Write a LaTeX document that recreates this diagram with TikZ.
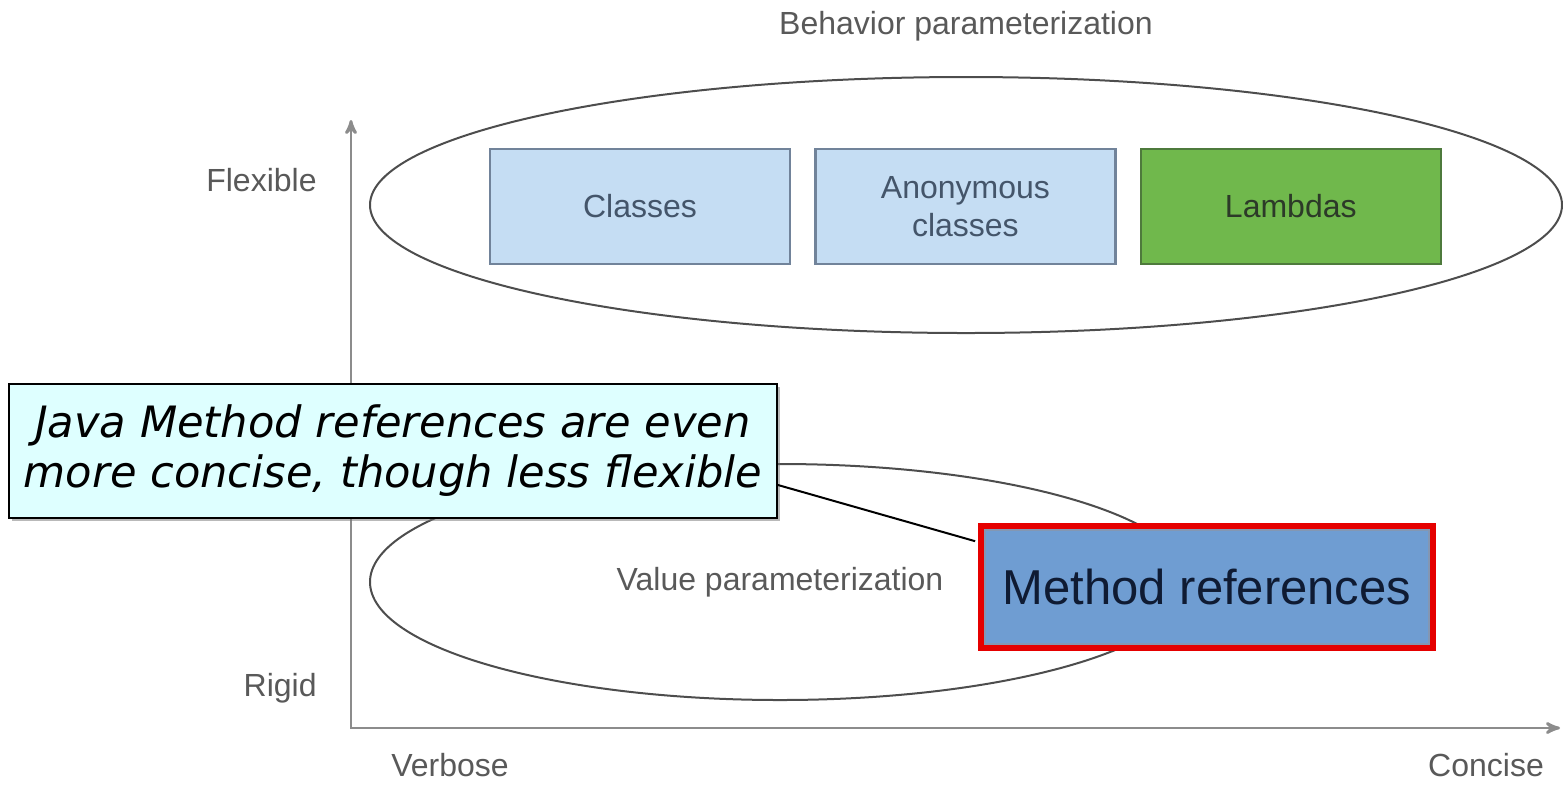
\documentclass[tikz,border=0pt]{standalone}
\usepackage{fontspec}
\setmainfont{Liberation Sans}
\newfontfamily\notefont{DejaVu Sans}
\usetikzlibrary{arrows,positioning,shapes.geometric,shadows}
\definecolor{labelgray}{HTML}{595959}
\definecolor{axisgray}{HTML}{8C8C8C}
\definecolor{ovalgray}{HTML}{4D4D4D}
\definecolor{boxblue}{HTML}{C5DDF3}
\definecolor{boxblueline}{HTML}{71839A}
\definecolor{boxbluetext}{HTML}{44556A}
\definecolor{lambdagreen}{HTML}{70B84C}
\definecolor{lambdaline}{HTML}{4E7A3C}
\definecolor{lambdatext}{HTML}{2C3A28}
\definecolor{notecyan}{HTML}{DEFFFF}
\definecolor{mrefblue}{HTML}{6F9DD2}
\definecolor{mrefred}{HTML}{E50000}
\definecolor{mreftext}{HTML}{0F1B33}
\definecolor{frameblue}{HTML}{8397B3}
\tikzset{
    %Define standard arrow tip
    >=stealth',
    % Define axis style
    axis/.style={
           <->,
           line width=1.4pt,
           draw=axisgray,}
}

\begin{document}
\begin{tikzpicture}[x=0.5pt,y=-0.5pt,
lbl/.style={font=\fontsize{16}{19}\selectfont, text=labelgray, inner sep=0pt},
oval/.style={ellipse, draw=ovalgray, line width=1pt, inner sep=0pt},
kindbox/.style={rectangle, fill=boxblue, draw=boxblueline, line width=1.2pt, text=boxbluetext,
  minimum width=150pt, minimum height=57.5pt, align=center,
  font=\fontsize{16}{19}\selectfont},
lambdabox/.style={kindbox, fill=lambdagreen, draw=lambdaline, text=lambdatext},
notebox/.style={rectangle, fill=notecyan, draw=black, line width=1pt, align=center,
  minimum width=384pt, minimum height=67pt, inner sep=2pt,
  font=\notefont\itshape\fontsize{21.6}{25}\selectfont,
  drop shadow={shadow xshift=1.5pt, shadow yshift=-1.5pt, fill=black!55}},
mrefbox/.style={rectangle, fill=mrefblue, draw=mrefred, line width=3pt, text=mreftext,
  minimum width=226pt, minimum height=61pt,
  font=\fontsize{24.5}{29}\selectfont},
]
\useasboundingbox (0,0) rectangle (1563,784);

%Axes
\coordinate (ytop) at (351,120);
\coordinate (xend) at (1560,728);
\draw[axis] (ytop) |- (xend);

\node[lbl, anchor=east] (flex) at (317,180) {Flexible};
\node[lbl, anchor=east] (rigid) at (317,688) {Rigid};
\node[lbl] (verb) at (450,765) {Verbose};
\node[lbl] (conc) at (1486,765) {Concise};

%Ovals
\node[lbl] (title) at (966,26) {Behavior parameterization};
\node[oval, minimum width=596pt, minimum height=128pt] (behav) at (966,205) {};
\node[oval, lbl, minimum width=410pt, minimum height=118pt] (value) at (780,582) {Value parameterization};

%Nodes
\node[kindbox] (classes) at (640,206.5) {Classes};
\node[kindbox, right=11.5pt of classes] (anon) {Anonymous\\classes};
\node[lambdabox, right=11.5pt of anon] (lambdas) {Lambdas};

%Callout
\node[notebox] (note) at (393,451) {Java Method references are even\\more concise, though less flexible};
\node[mrefbox] (mref) at (1207,587) {Method references};
\draw[line width=1pt, shorten >=1.5pt] ([yshift=17pt]note.south east) -- ([yshift=-9.5pt]mref.north west);
\draw[frameblue, line width=0.8pt] ([shift={(3.4pt,-3.4pt)}]mref.north west) rectangle ([shift={(-3.4pt,3.4pt)}]mref.south east);

\end{tikzpicture}
\end{document}
